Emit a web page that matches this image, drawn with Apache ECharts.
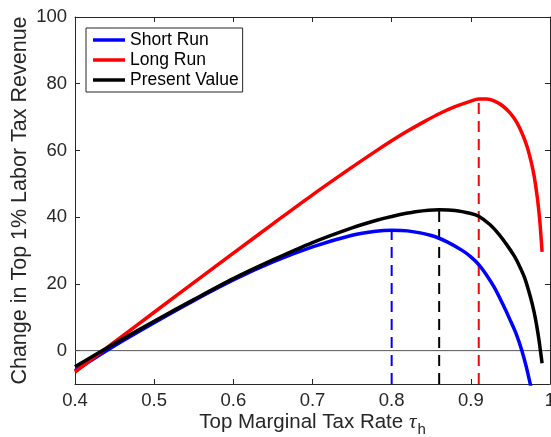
<!DOCTYPE html>
<html>
<head>
<meta charset="utf-8">
<script src="https://cdn.jsdelivr.net/npm/echarts@6/dist/echarts.min.js"></script>
<style>
  html, body { margin: 0; padding: 0; background: #fff; }
  #chart { width: 551px; height: 437px; }
</style>
</head>
<body>
<div id="chart"></div>
<script>
// Revenue change (top 1% labor tax) versus top marginal rate tau_h
const shortRun = [
  [0.40, -6.0], [0.45, 1.5], [0.50, 8.4], [0.55, 15.0], [0.60, 21.2],
  [0.65, 26.6], [0.70, 31.1], [0.75, 34.6], [0.78, 35.8], [0.80, 36.1],
  [0.82, 35.9], [0.85, 34.5], [0.87, 32.6], [0.89, 29.9], [0.90, 28.1],
  [0.91, 25.8], [0.92, 22.6], [0.93, 18.8], [0.94, 14.1], [0.95, 9.0],
  [0.958, 4.6], [0.9645, 0.0], [0.970, -4.8], [0.976, -11.0]
];
const longRun = [
  [0.40, -6.4], [0.45, 2.6], [0.50, 11.5], [0.55, 20.4], [0.60, 29.2],
  [0.65, 38.0], [0.70, 46.7], [0.75, 55.0], [0.78, 59.8], [0.80, 62.9],
  [0.82, 65.8], [0.84, 68.5], [0.86, 71.0], [0.88, 73.1], [0.90, 74.8],
  [0.91, 75.4], [0.92, 75.4], [0.93, 74.8], [0.94, 73.4], [0.95, 71.1],
  [0.958, 68.4], [0.965, 65.0], [0.971, 61.2], [0.976, 56.8], [0.980, 52.3],
  [0.984, 45.8], [0.987, 39.2], [0.990, 29.6]
];
const presentValue = [
  [0.40, -4.8], [0.45, 2.1], [0.50, 8.8], [0.55, 15.3], [0.60, 21.6],
  [0.65, 27.2], [0.70, 32.4], [0.75, 36.8], [0.78, 39.0], [0.80, 40.2],
  [0.83, 41.6], [0.86, 42.2], [0.88, 42.0], [0.90, 41.1], [0.91, 40.3],
  [0.924, 37.8], [0.935, 35.0], [0.9455, 31.7], [0.955, 28.3], [0.962, 25.1],
  [0.968, 21.8], [0.975, 16.3], [0.980, 11.5], [0.9834, 7.2], [0.9865, 2.5],
  [0.990, -3.8]
];
// revenue-maximising rates and the peak value of each curve
const peakShort = [0.80, 36.1];
const peakLong = [0.91, 75.4];
const peakPV = [0.86, 42.2];

const seriesNames = ['Short Run', 'Long Run', 'Present Value'];
const yTicks = [0, 20, 40, 60, 80, 100];

const FONT = 'Liberation Sans, Arial, Helvetica, sans-serif';
const AXIS_COLOR = '#262626';

function curve(name, data, color) {
  return {
    name, type: 'line', data, smooth: 0.3,
    symbol: 'none', z: 3,
    lineStyle: { color, width: 3.5 }, itemStyle: { color }
  };
}
function dropLine(name, peak, color) {
  return {
    name, type: 'line', data: [[peak[0], -10], [peak[0], peak[1]]],
    symbol: 'none', z: 2, silent: true,
    lineStyle: { color, width: 2, type: [11, 7] }
  };
}

const chart = echarts.init(document.getElementById('chart'), null, { renderer: 'canvas' });
chart.setOption({
  animation: false,
  backgroundColor: '#fff',
  textStyle: { fontFamily: FONT },
  grid: { left: 75, right: 1, top: 17, bottom: 53, containLabel: false, outerBoundsMode: 'none' },
  legend: {
    data: seriesNames,
    orient: 'vertical', left: 86, top: 28,
    icon: 'rect', itemWidth: 32, itemHeight: 3.5, itemGap: 2,
    padding: [3, 4, 3, 7],
    borderColor: AXIS_COLOR, borderWidth: 1, backgroundColor: '#fff',
    textStyle: { fontSize: 17.5, color: '#000', fontFamily: FONT, lineHeight: 17 }
  },
  xAxis: [{
    type: 'value', min: 0.4, max: 1, interval: 0.1,
    position: 'bottom',
    name: '{a|Top Marginal Tax Rate }{t|τ}{h|h}',
    nameLocation: 'middle', nameGap: 28, nameMoveOverlap: false,
    nameTextStyle: {
      rich: {
        a: { fontSize: 20.5, color: AXIS_COLOR, fontFamily: FONT, verticalAlign: 'top' },
        t: { fontSize: 21, color: AXIS_COLOR, fontFamily: 'Liberation Serif, serif', fontStyle: 'italic', verticalAlign: 'top' },
        h: { fontSize: 15, color: AXIS_COLOR, fontFamily: FONT, verticalAlign: 'top', padding: [10, 0, 0, 1] }
      }
    },
    axisLine: { show: true, onZero: false, lineStyle: { color: AXIS_COLOR, width: 1 } },
    axisTick: { show: true, inside: true, length: 5, lineStyle: { color: AXIS_COLOR } },
    axisLabel: { fontSize: 18.5, color: AXIS_COLOR, margin: 7, fontFamily: FONT },
    splitLine: { show: false }
  }, {
    type: 'value', min: 0.4, max: 1, interval: 0.1,
    position: 'top',
    axisLine: { show: true, onZero: false, lineStyle: { color: AXIS_COLOR, width: 1 } },
    axisTick: { show: true, inside: true, length: 5, lineStyle: { color: AXIS_COLOR } },
    axisLabel: { show: false },
    splitLine: { show: false }
  }],
  yAxis: [{
    type: 'value', min: -10, max: 100, interval: 10,
    position: 'left',
    name: 'Change in Top 1% Labor Tax Revenue',
    nameLocation: 'middle', nameGap: 44, nameRotate: 90, nameMoveOverlap: false,
    nameTextStyle: { fontSize: 21.5, color: AXIS_COLOR, fontFamily: FONT },
    axisLine: { show: true, onZero: false, lineStyle: { color: AXIS_COLOR, width: 1 } },
    axisTick: { show: true, inside: true, length: 5, customValues: yTicks, lineStyle: { color: AXIS_COLOR } },
    axisLabel: { fontSize: 18.5, color: AXIS_COLOR, margin: 8, customValues: yTicks, fontFamily: FONT },
    splitLine: { show: false }
  }, {
    type: 'value', min: -10, max: 100, interval: 10,
    position: 'right',
    axisLine: { show: true, onZero: false, lineStyle: { color: AXIS_COLOR, width: 1 } },
    axisTick: { show: true, inside: true, length: 5, customValues: yTicks, lineStyle: { color: AXIS_COLOR } },
    axisLabel: { show: false },
    splitLine: { show: false }
  }],
  series: [
    {
      name: 'zero', type: 'line', data: [[0.4, 0], [1, 0]], symbol: 'none', z: 1, silent: true,
      lineStyle: { color: '#555', width: 1 }
    },
    curve('Short Run', shortRun, '#0000ff'),
    curve('Long Run', longRun, '#ff0000'),
    curve('Present Value', presentValue, '#000000'),
    dropLine('Short Run max', peakShort, '#0000ff'),
    dropLine('Present Value max', peakPV, '#000000'),
    dropLine('Long Run max', peakLong, '#ff0000')
  ]
});
</script>
</body>
</html>
